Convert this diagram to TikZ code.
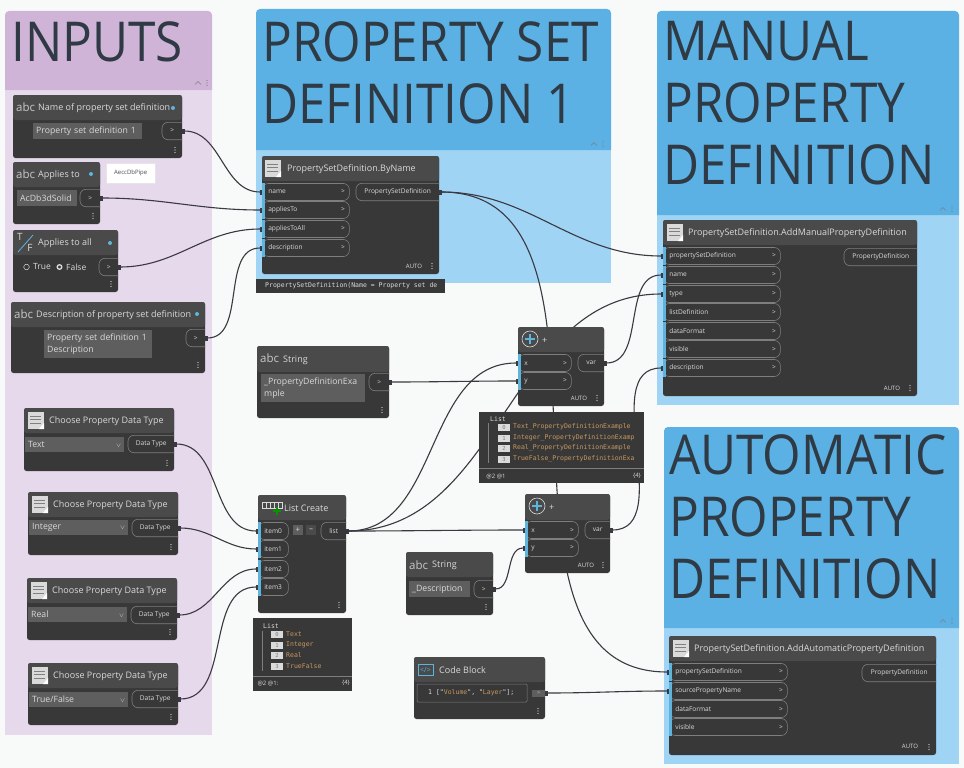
\documentclass[tikz,border=0pt]{standalone}
\usepackage{fontspec}
\setmainfont{Open Sans}
\setmonofont{DejaVu Sans Mono}
\newfontfamily\bandfont[FakeStretch=0.9]{Open Sans}
\usetikzlibrary{arrows.meta, backgrounds}

\definecolor{pagebg}{HTML}{F8F9F9}
\definecolor{purpletop}{HTML}{CFB4D8}
\definecolor{purplelow}{HTML}{E6D9EC}
\definecolor{bluetop}{HTML}{5BB1E3}
\definecolor{bluelow}{HTML}{A0D4F4}
\definecolor{dynfill}{HTML}{383838}
\definecolor{headfill}{HTML}{4A4A4A}
\definecolor{portline}{HTML}{7E7E7E}
\definecolor{boxfill}{HTML}{5E5E5E}
\definecolor{dyntext}{HTML}{DADADA}
\definecolor{portblue}{HTML}{5FB4DE}
\definecolor{wirecol}{HTML}{3A3840}
\definecolor{titlecol}{HTML}{2F3A44}
\definecolor{listorange}{HTML}{C9985F}

\newcommand{\fsz}[1]{\fontsize{#1}{#1}\selectfont}
\newcommand{\chev}{\hfill>}

\tikzstyle{dynbody} = [rectangle, anchor=north west, fill=dynfill, rounded corners=2.5pt, inner sep=0pt, outer sep=0pt]
\tikzstyle{dynhead} = [rectangle, anchor=north west, fill=headfill, rounded corners=2.5pt, inner sep=0pt, outer sep=0pt]
\tikzstyle{dyntitle} = [anchor=west, yshift=-1pt, inner sep=0pt, text=dyntext, font=\fsz{9}]
\tikzstyle{grouptitle} = [anchor=north west, inner sep=0pt, text=titlecol, align=left, font=\bandfont\fontsize{55}{62}\selectfont]
\tikzstyle{inport} = [rectangle, anchor=west, draw=portline, line width=0.6pt, rounded corners=6pt, minimum height=17pt, inner xsep=0pt, inner ysep=0pt, text=dyntext, align=left, font=\fsz{6.6}]
\tikzstyle{outport} = [rectangle, anchor=west, minimum height=17pt, inner sep=0pt, text=dyntext, font=\fsz{6.6}]
\tikzstyle{valuebox} = [rectangle, anchor=north west, fill=boxfill, inner xsep=3pt, inner ysep=0pt, text=dyntext, align=left, font=\fontsize{8.7}{12}\selectfont]
\tikzstyle{smalltext} = [inner sep=0pt, text=dyntext, font=\fsz{6}]
\tikzstyle{bodytext} = [anchor=west, inner sep=0pt, text=dyntext, font=\fsz{8.5}]
\tikzstyle{icontext} = [anchor=west, inner sep=0pt, text=dyntext!80!gray, font=\fsz{11.5}]
\tikzstyle{panel} = [rectangle, anchor=north west, fill=dynfill, inner sep=0pt, outer sep=0pt]
\tikzstyle{monotext} = [anchor=west, inner sep=0pt, text=dyntext, font=\ttfamily\fsz{6.5}]
\tikzstyle{rowtag} = [rectangle, fill=dyntext, text=gray, minimum width=12pt, minimum height=7pt, inner sep=0pt, font=\ttfamily\fsz{5.5}]
\tikzstyle{rowtext} = [anchor=west, inner sep=0pt, text=listorange, font=\ttfamily\fsz{6.5}]
\tikzstyle{wire} = [draw=wirecol, line width=1.1pt, {Square[length=2.5pt,width=5pt]}-{Square[length=2.5pt,width=5pt]}]

% node with header, title and the three dots
\newcommand{\dynnode}[8]{
  \node (#1) [dynbody, minimum width=#4pt, minimum height=#5pt] at (#2,#3) {};
  \node (#1_head) [dynhead, minimum width=#4pt, minimum height=#6pt] at (#2,#3) {};
  \node (#1_title) [dyntitle] at ([xshift=#7pt]#1_head.west) {#8};
  \foreach \d in {5.5,8,10.5}
    \fill[dyntext] ([xshift=-7pt,yshift=\d pt]#1.south east) circle (0.65pt);
}
% input port with blue bar
\newcommand{\inport}[5]{
  \pgfmathsetmacro\portw{#4-9}
  \node (#1) [inport, minimum width=#4pt, text width=\portw pt] at (#2,#3) {\hspace*{1.5pt}#5};
  \fill[portblue] (#1.north west) rectangle ([xshift=3pt]#1.south west);
}
% output port, open on the node edge
\newcommand{\outport}[5]{
  \node (#1) [outport, minimum width=#4pt] at (#2,#3) {#5};
  \draw[portline, line width=0.6pt, rounded corners=6pt] (#1.north east) -- (#1.north west) -- (#1.south west) -- (#1.south east);
}
% collapse mark of a group
\newcommand{\grouptag}[2]{
  \draw[gray, line width=0.6pt] (#1-3,#2+1.5) -- (#1,#2-1.5) -- (#1+3,#2+1.5);
  \foreach \d in {-2.5,0,2.5}
    \fill[gray] (#1+9,#2+\d) circle (0.6pt);
}
% group: title band and lighter body
\newcommand{\groupbox}[8]{
  \node (#1) [anchor=north west, inner sep=0pt, minimum width=#4pt-#2pt, minimum height=#6pt-#3pt] at (#2,#3) {};
  \fill[#8] (#2,#5) rectangle (#4,#6);
  \fill[#7] (#2,#5) {[rounded corners=4pt] -- (#2,#3) -- (#4,#3)} -- (#4,#5) -- cycle;
}
% sheet icon of a node
\newcommand{\docicon}[2]{
  \fill[dyntext] (#1,#2) rectangle (#1+16,#2+17);
  \foreach \d in {4,7.5,11}
    \draw[gray, line width=0.7pt] (#1+2,#2+\d) -- (#1+13,#2+\d);
  \fill[white] (#1+11,#2+17) -- (#1+16,#2+17) -- (#1+16,#2+11) -- cycle;
}
% plus icon of a formula node
\newcommand{\plusicon}[2]{
  \draw[dyntext, line width=0.6pt] (#1,#2) circle (8pt);
  \draw[portblue, line width=1.2pt] (#1-5,#2) -- (#1+5,#2) (#1,#2-5) -- (#1,#2+5);
}

\begin{document}
\begin{tikzpicture}[x=1pt, y=-1pt]
  \useasboundingbox (0,0) rectangle (964,768);

  % Groups
  \begin{scope}[on background layer]
    \fill[pagebg] (0,0) rectangle (964,768);
    \groupbox{inputs}{5}{11}{212}{90}{735}{purpletop}{purplelow}
    \groupbox{psetdef}{256}{9}{611}{150}{283}{bluetop}{bluelow}
    \groupbox{manual}{657}{11}{959}{215}{405}{bluetop}{bluelow}
    \groupbox{automatic}{664}{427}{959}{628}{764}{bluetop}{bluelow}
  \end{scope}
  \node (inputs_label) [grouptitle] at (11,21) {INPUTS};
  \node (psetdef_label) [grouptitle] at (262,21) {PROPERTY SET\\DEFINITION 1};
  \node (manual_label) [grouptitle] at (663,21) {MANUAL\\PROPERTY\\DEFINITION};
  \node (automatic_label) [grouptitle] at (669,434) {AUTOMATIC\\PROPERTY\\DEFINITION};
  \grouptag{198}{83}
  \grouptag{594}{144}
  \grouptag{943}{209}
  \grouptag{943}{621}

  % Inputs column
  \dynnode{setname}{13}{95}{169}{63}{25}{25}{Name of property set definition}
  \node (setname_abc) [icontext] at (16,107) {abc};
  \fill[portblue] (173,108) circle (2pt);
  \node (setname_val) [valuebox, minimum width=109pt, minimum height=16pt, text width=103pt] at (33,123) {Property set definition 1};
  \outport{setname_out}{162}{131}{20}{>}

  \dynnode{applies}{13}{162}{87}{62}{25}{25}{Applies to}
  \node (applies_abc) [icontext] at (16,174) {abc};
  \fill[portblue] (91,174) circle (2pt);
  \node (applies_val) [valuebox, minimum width=60pt, minimum height=16pt, text width=54pt] at (17,190) {AcDb3dSolid};
  \outport{applies_out}{80}{198}{20}{>}
  \node (applies_note) [rectangle, anchor=north west, fill=white, draw=black!10, minimum width=49pt, minimum height=20pt, inner sep=0pt, font=\fsz{6}, text=black!70] at (106,163) {AeccDbPipe};

  \dynnode{appliesall}{13}{230}{105}{62}{25}{25}{Applies to all}
  \node (appliesall_t) [anchor=center, inner sep=0pt, text=dyntext, font=\fsz{10}] at (20,237) {T};
  \node (appliesall_f) [anchor=center, inner sep=0pt, text=dyntext, font=\fsz{10}] at (30,248) {F};
  \draw[portblue, line width=0.8pt] (33,235) -- (18,252);
  \fill[portblue] (110,243) circle (2pt);
  \draw[dyntext, line width=0.5pt] (26.5,267) circle (2.8pt);
  \node (appliesall_true) [bodytext] at (33,267) {True};
  \draw[dyntext, line width=1.3pt] (59.5,267) circle (2.3pt);
  \node (appliesall_false) [bodytext] at (66,267) {False};
  \outport{appliesall_out}{99}{267}{19}{>}

  \dynnode{descr}{11}{302}{194}{71}{25}{25}{Description of property set definition}
  \node (descr_abc) [icontext] at (14,314) {abc};
  \fill[portblue] (197,314) circle (2pt);
  \node (descr_val) [valuebox, minimum width=108pt, minimum height=28pt, text width=102pt] at (44,330) {Property set definition 1\\Description};
  \outport{descr_out}{186}{338}{19}{>}

  \dynnode{choose_a}{24}{408}{150}{63}{25}{25}{Choose Property Data Type}
  \docicon{28}{412}
  \node (choose_a_val) [valuebox, minimum width=99pt, minimum height=15pt, text width=93pt] at (25,437) {Text\hfill\fsz{6}$\vee$};
  \outport{choose_a_out}{128}{444}{46}{Data Type}

  \dynnode{choose_b}{28}{492}{150}{63}{25}{25}{Choose Property Data Type}
  \docicon{32}{496}
  \node (choose_b_val) [valuebox, minimum width=99pt, minimum height=15pt, text width=93pt] at (29,520) {Integer\hfill\fsz{6}$\vee$};
  \outport{choose_b_out}{132}{528}{46}{Data Type}

  \dynnode{choose_c}{27}{578}{150}{62}{25}{25}{Choose Property Data Type}
  \docicon{31}{582}
  \node (choose_c_val) [valuebox, minimum width=99pt, minimum height=15pt, text width=93pt] at (28,607) {Real\hfill\fsz{6}$\vee$};
  \outport{choose_c_out}{131}{615}{46}{Data Type}

  \dynnode{choose_d}{28}{663}{150}{62}{25}{25}{Choose Property Data Type}
  \docicon{32}{667}
  \node (choose_d_val) [valuebox, minimum width=99pt, minimum height=15pt, text width=93pt] at (29,692) {True/False\hfill\fsz{6}$\vee$};
  \outport{choose_d_out}{132}{699}{46}{Data Type}

  % Property set definition
  \dynnode{byname}{262}{156}{177}{118}{25}{25}{PropertySetDefinition.ByName}
  \docicon{265}{160}
  \inport{byname_name}{262}{192}{87}{name\chev}
  \inport{byname_applies}{262}{210}{87}{appliesTo\chev}
  \inport{byname_all}{262}{229}{87}{appliesToAll\chev}
  \inport{byname_descr}{262}{248}{87}{description\chev}
  \outport{byname_out}{356}{192}{83}{PropertySetDefinition}
  \node (byname_auto) [smalltext] at (414,266) {AUTO};
  \node (byname_preview) [panel, minimum width=189pt, minimum height=14pt] at (256,279) {};
  \node (byname_code) [monotext] at (265,286) {PropertySetDefinition(Name = Property set de};

  % Middle column
  \dynnode{str_a}{257}{346}{132}{72}{26}{26}{String}
  \node (str_a_abc) [icontext] at (260,358) {abc};
  \node (str_a_val) [valuebox, minimum width=104pt, minimum height=28pt, text width=98pt] at (261,374) {\_PropertyDefinitionExa\\mple};
  \outport{str_a_out}{369}{382}{20}{>}

  \dynnode{plus_a}{518}{327}{86}{79}{25}{24}{+}
  \plusicon{530}{339}
  \inport{plus_a_x}{518}{363}{53}{x\chev}
  \inport{plus_a_y}{518}{381}{53}{y\chev}
  \outport{plus_a_var}{578}{363}{26}{var}
  \node (plus_a_auto) [smalltext] at (579,398) {AUTO};

  \node (list_a) [panel, minimum width=165pt, minimum height=71pt] at (479,412) {};
  \draw[portline, line width=0.6pt] (list_a.west |- 0,468) -- (list_a.east |- 0,468);
  \draw[portline, line width=0.5pt] (488,423) -- (488,463);
  \node (list_a_head) [monotext] at (490,419) {List};
  \node (list_a_t0) [rowtag] at (504,427) {0};
  \node (list_a_r0) [rowtext] at (513,427) {Text\_PropertyDefinitionExample};
  \node (list_a_t1) [rowtag] at (504,438) {1};
  \node (list_a_r1) [rowtext] at (513,438) {Integer\_PropertyDefinitionExamp};
  \node (list_a_t2) [rowtag] at (504,448) {2};
  \node (list_a_r2) [rowtext] at (513,448) {Real\_PropertyDefinitionExample};
  \node (list_a_t3) [rowtag] at (504,459) {3};
  \node (list_a_r3) [rowtext] at (513,459) {TrueFalse\_PropertyDefinitionExa};
  \node (list_a_lev) [smalltext] at (496,477) {@2 @1};
  \node (list_a_cnt) [smalltext] at (637,476) {\{4\}};

  \dynnode{plus_b}{525}{494}{85}{79}{26}{24}{+}
  \plusicon{537}{506}
  \inport{plus_b_x}{525}{530}{53}{x\chev}
  \inport{plus_b_y}{525}{548}{53}{y\chev}
  \outport{plus_b_var}{585}{530}{25}{var}
  \node (plus_b_auto) [smalltext] at (586,565) {AUTO};

  \dynnode{listcreate}{258}{495}{88}{118}{25}{26}{List Create}
  \foreach \d in {0,4,8,12,16}
    \draw[dyntext, line width=0.5pt] (262+\d,502) rectangle (266+\d,508);
  \draw[green!60!black, line width=1.4pt] (277,507) -- (277,515) (273,511) -- (281,511);
  \inport{listcreate_a}{258}{531}{30}{item0}
  \inport{listcreate_b}{258}{549}{30}{item1}
  \inport{listcreate_c}{258}{569}{30}{item2}
  \inport{listcreate_d}{258}{587}{30}{item3}
  \node (listcreate_add) [rectangle, fill=boxfill, minimum size=10pt, inner sep=0pt, text=dyntext, font=\fsz{8}] at (298,530) {+};
  \node (listcreate_del) [rectangle, fill=headfill, minimum size=10pt, inner sep=0pt, text=dyntext, font=\fsz{8}] at (311,530) {--};
  \outport{listcreate_out}{321}{531}{25}{list}

  \node (list_b) [panel, minimum width=99pt, minimum height=73pt] at (253,618) {};
  \draw[portline, line width=0.6pt] (list_b.west |- 0,676) -- (list_b.east |- 0,676);
  \draw[portline, line width=0.5pt] (262,631) -- (262,671);
  \node (list_b_head) [monotext] at (263,626) {List};
  \node (list_b_t0) [rowtag] at (277,634) {0};
  \node (list_b_r0) [rowtext] at (286,634) {Text};
  \node (list_b_t1) [rowtag] at (277,645) {1};
  \node (list_b_r1) [rowtext] at (286,645) {Integer};
  \node (list_b_t2) [rowtag] at (277,655) {2};
  \node (list_b_r2) [rowtext] at (286,655) {Real};
  \node (list_b_t3) [rowtag] at (277,666) {3};
  \node (list_b_r3) [rowtext] at (286,666) {TrueFalse};
  \node (list_b_lev) [smalltext] at (268,684) {@2 @1:};
  \node (list_b_cnt) [smalltext] at (346,683) {\{4\}};

  \dynnode{str_b}{406}{552}{87}{63}{25}{26}{String}
  \node (str_b_abc) [icontext] at (409,565) {abc};
  \node (str_b_val) [valuebox, minimum width=61pt, minimum height=16pt, text width=55pt] at (409,581) {\_Description};
  \outport{str_b_out}{474}{589}{19}{>}

  \dynnode{codeblock}{414}{657}{131}{62}{25}{25}{Code Block}
  \draw[portblue, line width=0.6pt] (418,664) rectangle (433,675);
  \node (codeblock_icon) [inner sep=0pt, text=portblue, font=\fsz{7}] at (425.5,669.5) {</>};
  \draw[portline, line width=0.5pt, rounded corners=1pt] (417,684) rectangle (527,702);
  \node (codeblock_line) [monotext] at (428,693) {\textcolor{dyntext}{1} ["\textcolor{listorange}{Volume}", "\textcolor{listorange}{Layer}"];};
  \node (codeblock_out) [rectangle, anchor=west, fill=boxfill, minimum width=13pt, minimum height=7pt, inner sep=0pt, text=dyntext, font=\fsz{5}] at (532,693) {>};

  % Manual property definition
  \dynnode{addmanual}{663}{220}{254}{176}{25}{25}{PropertySetDefinition.AddManualPropertyDefinition}
  \docicon{667}{224}
  \inport{addmanual_set}{663}{256}{117}{propertySetDefinition\chev}
  \inport{addmanual_name}{663}{275}{117}{name\chev}
  \inport{addmanual_type}{663}{294}{117}{type\chev}
  \inport{addmanual_list}{663}{312}{117}{listDefinition\chev}
  \inport{addmanual_format}{663}{331}{117}{dataFormat\chev}
  \inport{addmanual_vis}{663}{349}{117}{visible\chev}
  \inport{addmanual_descr}{663}{368}{117}{description\chev}
  \outport{addmanual_out}{844}{257}{73}{PropertyDefinition}
  \node (addmanual_auto) [smalltext] at (892,388) {AUTO};

  % Automatic property definition
  \dynnode{addauto}{669}{636}{267}{119}{25}{25}{PropertySetDefinition.AddAutomaticPropertyDefinition}
  \docicon{673}{640}
  \inport{addauto_set}{669}{672}{118}{propertySetDefinition\chev}
  \inport{addauto_source}{669}{691}{118}{sourcePropertyName\chev}
  \inport{addauto_format}{669}{709}{118}{dataFormat\chev}
  \inport{addauto_vis}{669}{727}{118}{visible\chev}
  \outport{addauto_out}{862}{673}{74}{PropertyDefinition}
  \node (addauto_auto) [smalltext] at (910,746) {AUTO};

  % Wires
  \begin{scope}[on background layer]
    \path [wire] (setname_out.east) to[out=0,in=180] (byname_name.west);
    \path [wire] (applies_out.east) to[out=0,in=180] (byname_applies.west);
    \path [wire] (appliesall_out.east) to[out=0,in=180] (byname_all.west);
    \path [wire] (descr_out.east) to[out=0,in=180] (byname_descr.west);
    \path [wire] (choose_a_out.east) to[out=0,in=180] (listcreate_a.west);
    \path [wire] (choose_b_out.east) to[out=0,in=180] (listcreate_b.west);
    \path [wire] (choose_c_out.east) to[out=0,in=180] (listcreate_c.west);
    \path [wire] (choose_d_out.east) to[out=0,in=180] (listcreate_d.west);
    \path [wire] (str_a_out.east) to[out=0,in=180] (plus_a_y.west);
    \path [wire] (listcreate_out.east) to[out=0,in=180] (plus_a_x.west);
    \path [wire] (listcreate_out.east) to[out=0,in=180] (addmanual_type.west);
    \path [wire] (listcreate_out.east) to[out=0,in=180] (plus_b_x.west);
    \path [wire] (str_b_out.east) to[out=0,in=180] (plus_b_y.west);
    \path [wire] (byname_out.east) to[out=0,in=180] (addmanual_set.west);
    \path [wire] (byname_out.east) to[out=0,in=180] (addauto_set.west);
    \path [wire] (plus_a_var.east) to[out=0,in=180] (addmanual_name.west);
    \path [wire] (plus_b_var.east) to[out=0,in=180] (addmanual_descr.west);
    \path [wire] (codeblock_out.east) to[out=0,in=180] (addauto_source.west);
  \end{scope}
\end{tikzpicture}
\end{document}
